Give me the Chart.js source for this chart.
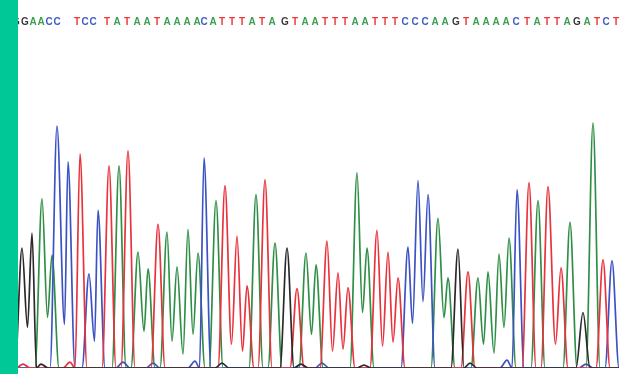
<!DOCTYPE html>
<html>
<head>
<meta charset="utf-8">
<script src="https://cdn.jsdelivr.net/npm/chart.js"></script>
<style>
  body { margin: 0; background: #fff; }
  #bar { position: absolute; left: 0; top: 0; width: 18px; height: 374px; background: #00c896; }
  #wrap { position: absolute; left: 18px; top: 0; }
</style>
</head>
<body>
<div id="bar"></div>
<div id="wrap"><canvas id="myChart" width="601" height="374"></canvas></div>
<script>
// base calls and their scan positions
const seq = 'GGAACCTCCTATAATAAAACATTTATAGTAATTTAATTTCCCAAGTAAAACTATTAGATCT';
const callPos = [16, 25, 33, 41, 49, 57, 77, 85, 93, 107, 117, 127, 137, 147, 157, 167, 177, 187, 197, 204,
  213, 222, 232, 242, 252, 262, 272, 285, 295, 305, 315, 325, 335, 345, 355, 365, 375, 385, 395, 405,
  415, 425, 435, 445, 456, 466, 476, 486, 496, 506, 516, 527, 537, 547, 557, 567, 577, 587, 597, 606, 616];

// peaks [scan, intensity] and valleys between overlapping peaks, per channel
const gPeaks = [[22, 121], [32, 136], [41, 4], [222, 5], [287, 121], [301, 4], [364, 3], [458, 120], [470, 5], [583, 56]];
const gValleys = [[27.5, 41]];
const aPeaks = [[42, 171], [52, 114], [119, 204], [138, 117], [148, 100], [167, 137], [177, 102], [188, 140],
  [198, 116], [216, 169], [256, 175], [275, 126], [306, 116], [316, 104], [357, 197], [367, 121], [438, 151],
  [448, 91], [478, 91], [488, 97], [499, 115], [509, 131], [538, 169], [570, 147], [593, 247]];
const aValleys = [[47.5, 51], [144, 37], [172, 27], [183, 14], [193, 34], [311.5, 34], [362.5, 56], [444, 51],
  [483.5, 24], [494, 15], [504, 41]];
const tPeaks = [[23, 4], [70, 6], [80, 216], [109, 204], [128, 219], [158, 145], [225, 184], [237, 133], [247, 83],
  [265, 190], [297, 80], [327, 128], [338, 96], [348, 81], [377, 139], [388, 117], [398, 91], [468, 97],
  [529, 187], [548, 183], [561, 101], [603, 109]];
const tValleys = [[231.5, 24], [242.5, 17], [332.5, 17], [343, 19], [382.5, 22], [393, 26], [555.5, 24]];
const cPeaks = [[57, 244], [68, 208], [89, 95], [98, 159], [123, 6], [153, 5], [195, 7], [204, 212], [322, 5],
  [408, 122], [418, 189], [428, 175], [507, 8], [517, 180], [586, 4], [612, 108]];
const cValleys = [[64.5, 44], [94.5, 27], [412.5, 45], [423, 67]];

const colors = { G: '#2a2a2a', A: '#2f8f46', T: '#e8323c', C: '#3b52c4' };
const letterColors = { G: '#383838', A: '#3a9e50', T: '#ee3a3a', C: '#3f5cc8' };

// half width of a lone peak, in scans
const W = 7;

function trace(peaks, valleys) {
  const pts = peaks.map(p => ({ x: p[0], y: p[1], peak: true }))
    .concat(valleys.map(v => ({ x: v[0], y: v[1], peak: false })))
    .sort((a, b) => a.x - b.x);
  const out = [{ x: 0, y: 0 }];
  if (pts[0].peak) out.push({ x: pts[0].x - W, y: 0 });
  for (let i = 0; i < pts.length; i++) {
    const p = pts[i], n = pts[i + 1];
    out.push({ x: p.x, y: p.y });
    if (!n) { out.push({ x: p.x + W, y: 0 }); break; }
    if (p.peak && n.peak) {
      if (n.x - p.x > 2 * W) {
        out.push({ x: p.x + W, y: 0 }, { x: n.x - W, y: 0 });
      } else {
        out.push({ x: (p.x + n.x) / 2, y: 0 });
      }
    }
  }
  out.push({ x: 640, y: 0 });
  return out;
}

const ctx = document.getElementById('myChart');

new Chart(ctx, {
  type: 'line',
  data: {
    datasets: [
      { label: 'G', data: trace(gPeaks, gValleys), borderColor: colors.G },
      { label: 'T', data: trace(tPeaks, tValleys), borderColor: colors.T },
      { label: 'C', data: trace(cPeaks, cValleys), borderColor: colors.C },
      { label: 'A', data: trace(aPeaks, aValleys), borderColor: colors.A }
    ]
  },
  options: {
    responsive: false,
    animation: false,
    devicePixelRatio: 1,
    layout: { padding: { top: 13, bottom: 6, left: 0, right: 0 } },
    plugins: { legend: { display: false }, tooltip: { enabled: false } },
    elements: {
      point: { radius: 0 },
      line: { borderWidth: 1.7, cubicInterpolationMode: 'monotone', borderJoinStyle: 'round' }
    },
    scales: {
      x: { type: 'linear', min: 18, max: 619, display: false },
      seq: {
        type: 'linear',
        position: 'top',
        min: 18,
        max: 619,
        grid: { display: false, drawTicks: false },
        border: { display: false },
        afterBuildTicks: s => { s.ticks = callPos.map(v => ({ value: v })); },
        afterFit: s => { s.paddingLeft = 0; s.paddingRight = 0; },
        ticks: {
          autoSkip: false,
          maxRotation: 0,
          padding: 3,
          font: { family: 'Liberation Sans', weight: 'bold', size: 10 },
          color: c => letterColors[seq[c.index]],
          callback: (v, i) => seq[i]
        }
      },
      y: { min: 0, max: 340, display: false }
    }
  }
});
</script>
</body>
</html>
